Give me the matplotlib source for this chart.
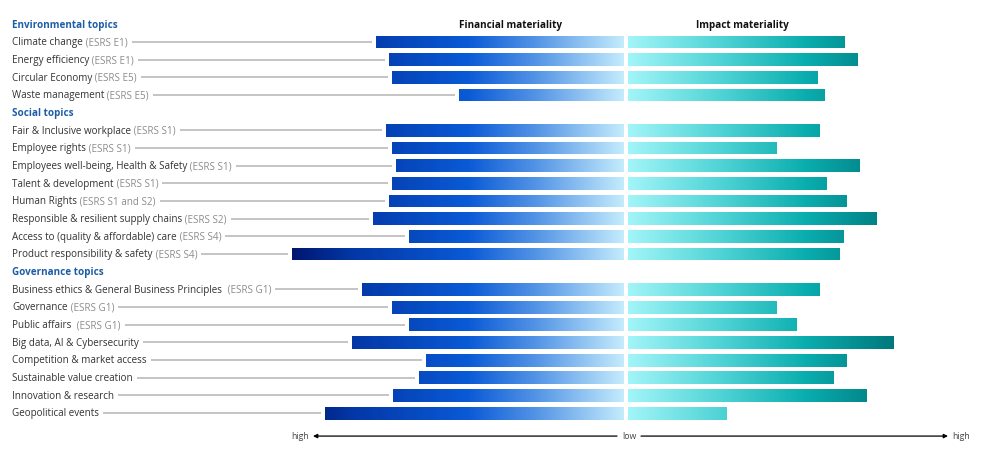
import matplotlib
matplotlib.use("Agg")
import matplotlib.pyplot as plt
import numpy as np
from matplotlib.colors import LinearSegmentedColormap
from matplotlib.path import Path
from matplotlib.patches import PathPatch

plt.rcParams['font.family'] = ['Open Sans', 'DejaVu Sans']

# ---------------- data ----------------
group_names = ["Environmental topics", "Social topics", "Governance topics"]

topics = [
    "Climate change", "Energy efficiency", "Circular Economy", "Waste management",
    "Fair & Inclusive workplace", "Employee rights", "Employees well-being, Health & Safety",
    "Talent & development", "Human Rights", "Responsible & resilient supply chains",
    "Access to (quality & affordable) care", "Product responsibility & safety",
    "Business ethics & General Business Principles ", "Governance", "Public affairs ",
    "Big data, AI & Cybersecurity", "Competition & market access",
    "Sustainable value creation", "Innovation & research", "Geopolitical events",
]
esrs_refs = [
    "(ESRS E1)", "(ESRS E1)", "(ESRS E5)", "(ESRS E5)",
    "(ESRS S1)", "(ESRS S1)", "(ESRS S1)", "(ESRS S1)", "(ESRS S1 and S2)",
    "(ESRS S2)", "(ESRS S4)", "(ESRS S4)",
    "(ESRS G1)", "(ESRS G1)", "(ESRS G1)", "", "", "", "", "",
]
topic_group = [0, 0, 0, 0,
               1, 1, 1, 1, 1, 1, 1, 1,
               2, 2, 2, 2, 2, 2, 2, 2]

# materiality (bar length, arbitrary units)
financial = [248, 235, 232, 165,
             238, 232, 228, 232, 235, 251, 215, 332,
             262, 232, 215, 272, 198, 205, 231, 299]
impact = [217, 230, 190, 197,
          192, 149, 232, 199, 219, 249, 216, 212,
          192, 149, 169, 266, 219, 206, 239, 99]

col_titles = ["Financial materiality", "Impact materiality"]
axis_labels = ["high", "low", "high"]

# ---------------- styling ----------------
LABEL_C = "#333333"
REF_C = "#8c8c8c"
HEAD_C = "#1c5da6"
LINE_C = "#b4b4b4"
FS = 7.1
GAP = 2  # half gap between the two bar sides
BASE = 0.19  # baseline offset (row units) so caps are centred on the row

left_cmap = LinearSegmentedColormap.from_list(
    "fin", [(0.0, "#001670"), (0.18, "#0337a6"), (0.53, "#0a5ad6"),
            (0.74, "#5595e6"), (1.0, "#c4ebfc")])
right_cmap = LinearSegmentedColormap.from_list(
    "imp", [(0.0, "#a2f5f8"), (0.35, "#4fd3d5"), (0.67, "#0aadae"),
            (1.0, "#00787d")])

fig = plt.figure(figsize=(9.81, 4.67), dpi=100)
ax = fig.add_axes([0, 0, 1, 1])
ax.axis("off")

# row layout
rows = []
header_rows = []
r = 0
for g in range(len(group_names)):
    header_rows.append(r)
    r += 1
    for i, tg in enumerate(topic_group):
        if tg == g:
            rows.append(r)
            r += 1
rows = np.array(rows)
n_rows = r

fin = np.array(financial, dtype=float)
imp = np.array(impact, dtype=float)
BH = 0.73

bars_l = ax.barh(rows, -fin, left=-GAP, height=BH, color="none", edgecolor="none")
bars_r = ax.barh(rows, imp, left=GAP, height=BH, color="none", edgecolor="none")


def compound(bars):
    paths = [b.get_path().transformed(b.get_patch_transform()) for b in bars]
    return Path.make_compound_path(*paths)


y_top, y_bot = -0.6, n_rows
grad = np.linspace(0, 1, 512).reshape(1, -1)
for bars, cmap, ext in [
    (bars_l, left_cmap, (-GAP - fin.max(), -GAP, y_bot, y_top)),
    (bars_r, right_cmap, (GAP, GAP + imp.max(), y_bot, y_top)),
]:
    clip = PathPatch(compound(bars), transform=ax.transData,
                     facecolor="none", edgecolor="none")
    ax.add_patch(clip)
    im = ax.imshow(grad, cmap=cmap, extent=ext, aspect="auto",
                   interpolation="bilinear")
    im.set_clip_path(clip)

# axes limits so that units map to pixels horizontally
ax.set_xlim(-626, 355)
ax.set_ylim(25.05, -1.375)

LX = -614
# group headers
for g, hr in zip(group_names, header_rows):
    ax.text(LX, hr + BASE, g, ha="left", va="baseline", fontsize=FS,
            fontweight="bold", color=HEAD_C)

# topic labels
label_ends = []
for i, rr in enumerate(rows):
    t1 = ax.text(LX, rr + BASE, topics[i], ha="left", va="baseline",
                 fontsize=FS, color=LABEL_C)
    last = t1
    if esrs_refs[i]:
        last = ax.annotate(" " + esrs_refs[i], xy=(1, 0), xycoords=t1,
                           ha="left", va="bottom", fontsize=FS, color=REF_C)
    label_ends.append(last)

# column titles
ax.text(-116, header_rows[0] + BASE, col_titles[0], ha="center", va="baseline",
        fontsize=FS, fontweight="bold", color="#111111")
ax.text(116, header_rows[0] + BASE, col_titles[1], ha="center", va="baseline",
        fontsize=FS, fontweight="bold", color="#111111")

# leader lines
fig.canvas.draw()
renderer = fig.canvas.get_renderer()
inv = ax.transData.inverted()
for i, rr in enumerate(rows):
    bb = label_ends[i].get_window_extent(renderer)
    x_end = inv.transform((bb.x1, 0))[0]
    ax.plot([x_end + 4, -GAP - fin[i] - 4], [rr, rr], color=LINE_C,
            lw=1.1, solid_capstyle="butt")

# bottom arrow axis
ya = n_rows + 0.3
ax.annotate("", xy=(-313, ya), xytext=(-9, ya),
            arrowprops=dict(arrowstyle="-|>", color="black", lw=0.9,
                            mutation_scale=6, shrinkA=0, shrinkB=0))
ax.annotate("", xy=(322, ya), xytext=(15, ya),
            arrowprops=dict(arrowstyle="-|>", color="black", lw=0.9,
                            mutation_scale=6, shrinkA=0, shrinkB=0))
ax.text(-317, ya + 0.15, axis_labels[0], ha="right", va="baseline", fontsize=6.3,
        color="#444444")
ax.text(3, ya + 0.15, axis_labels[1], ha="center", va="baseline", fontsize=6.3,
        color="#444444")
ax.text(326, ya + 0.15, axis_labels[2], ha="left", va="baseline", fontsize=6.3,
        color="#444444")

fig.savefig("out.png", dpi=100)
